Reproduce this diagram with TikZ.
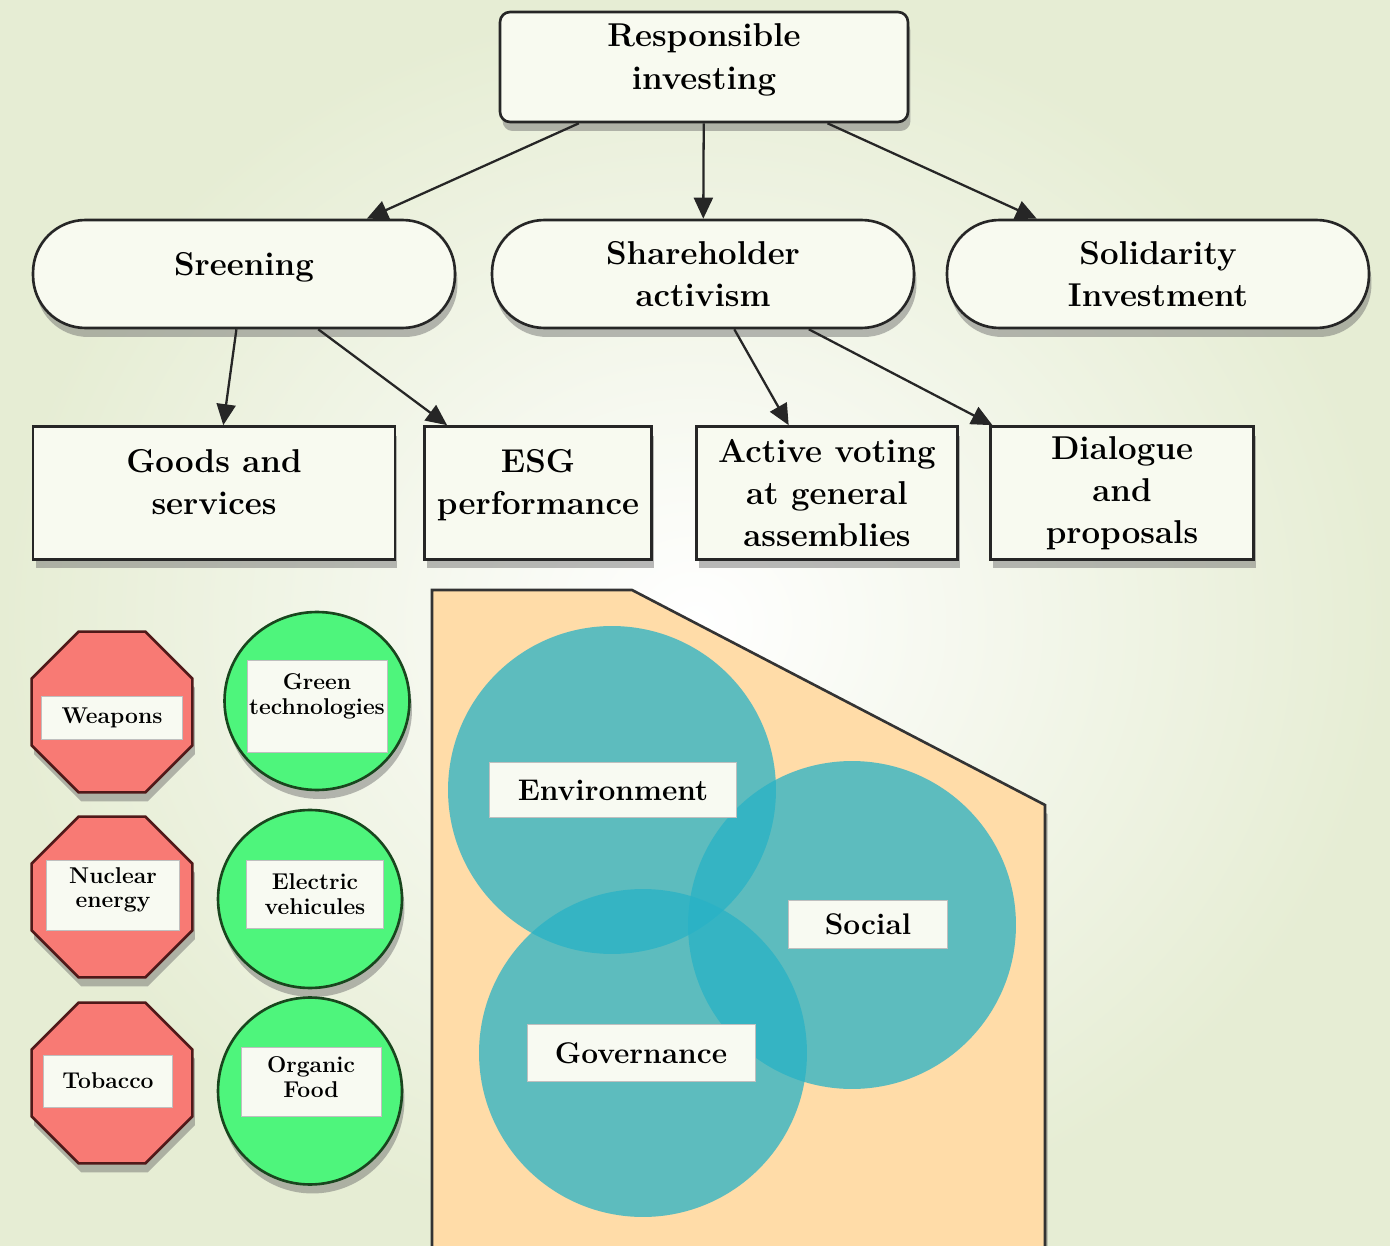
\documentclass[tikz,border=0pt]{standalone}
\usepackage{fontspec}
\usepackage{tikz}
\usetikzlibrary{shapes.geometric,shadows,arrows.meta}

\definecolor{bgedge}{RGB}{230,237,212}
\definecolor{boxfill}{RGB}{248,250,240}
\definecolor{stopred}{RGB}{248,122,116}
\definecolor{stopline}{RGB}{80,25,25}
\definecolor{gogreen}{RGB}{78,245,124}
\definecolor{goline}{RGB}{25,70,30}
\definecolor{peach}{RGB}{255,220,168}
\definecolor{esgteal}{RGB}{40,178,198}
\definecolor{tagfill}{RGB}{248,250,242}

\tikzstyle{boxshadow}=[drop shadow={shadow xshift=0.05cm, shadow yshift=-0.18cm, fill=black!60, opacity=0.45}]
\tikzstyle{top box}=[rectangle, rounded corners=0.2cm, draw=black!85, line width=1.5pt, fill=boxfill,
  minimum width=8.16cm, minimum height=2.2cm, align=center, font=\fontsize{18.8}{24}\selectfont\bfseries, boxshadow]
\tikzstyle{branch}=[top box, rounded corners=1.05cm, minimum width=8.44cm, minimum height=2.16cm]
\tikzstyle{leaf}=[top box, rounded corners=0pt, minimum height=2.66cm]
\tikzstyle{stop sign}=[regular polygon, regular polygon sides=8, minimum size=3.48cm, inner sep=0pt,
  fill=stopred, draw=stopline, line width=1.5pt, boxshadow]
\tikzstyle{go sign}=[ellipse, inner sep=0pt, fill=gogreen, draw=goline, line width=1.5pt, boxshadow]
\tikzstyle{tag}=[rectangle, inner sep=0pt, fill=tagfill, draw=black!25, line width=0.4pt, align=center,
  font=\fontsize{13}{14}\selectfont\bfseries]
\tikzstyle{pillar}=[circle, inner sep=0pt, minimum size=6.56cm, fill=esgteal, fill opacity=0.75]
\tikzstyle{pillar tag}=[tag, font=\fontsize{17}{19}\selectfont\bfseries]
\tikzstyle{link}=[-{Triangle[length=0.42cm,width=0.38cm]}, line width=1.3pt, draw=black!85]

\begin{document}
\begin{tikzpicture}[x=0.02cm, y=-0.02cm]
\useasboundingbox (0,0) rectangle (1390,1246);
\shade[inner color=white, outer color=bgedge] (0,0) rectangle (1390,1246);

% tree
\node[top box, text depth=0.42cm] (ri) at (704,67) {Responsible\\investing};

\node[branch, text depth=0.4cm] (scr) at (244,274) {Sreening};
\node[branch] (sha) at (703,274) {Shareholder\\activism};
\node[branch] (sol) at (1158,274) {Solidarity\\Investment};

\node[leaf, text depth=0.45cm, minimum width=7.24cm] (gds) at (214,493) {Goods and\\services};
\node[leaf, text depth=0.45cm, minimum width=4.54cm] (esg) at (538,493) {ESG\\performance};
\node[leaf, minimum width=5.22cm] (vot) at (827,493) {Active voting\\at general\\assemblies};
\node[leaf, minimum width=5.26cm] (dia) at (1122,493) {Dialogue\\and\\proposals};

\draw[link] (ri) -- (scr);
\draw[link] (ri) -- (sha);
\draw[link] (ri) -- (sol);
\draw[link] (scr) -- (gds);
\draw[link] (scr) -- (esg);
\draw[link] (sha) -- (vot);
\draw[link] (sha) -- (dia);

% excluded and favoured sectors
\node[stop sign] (wpn) at (112,712) {};
\node[stop sign] (nuc) at (112,897) {};
\node[stop sign] (tob) at (112,1083) {};
\node[tag, minimum width=2.82cm, minimum height=0.86cm] (wpntag) at (112,718) {Weapons};
\node[tag, text depth=0.3cm, minimum width=2.66cm, minimum height=1.4cm] (nuctag) at (113,895) {Nuclear\\energy};
\node[tag, minimum width=2.58cm, minimum height=1.04cm] (tobtag) at (108,1081) {Tobacco};

\node[go sign, minimum width=3.7cm, minimum height=3.56cm] (gt) at (317,701) {};
\node[go sign, minimum width=3.68cm, minimum height=3.56cm] (ev) at (310,899) {};
\node[go sign, minimum width=3.68cm, minimum height=3.74cm] (of) at (310,1091) {};
\node[tag, text depth=0.48cm, minimum width=2.8cm, minimum height=1.84cm] (gttag) at (317,706) {Green\\technologies};
\node[tag, minimum width=2.74cm, minimum height=1.36cm] (evtag) at (315,894) {Electric\\vehicules};
\node[tag, text depth=0.2cm, minimum width=2.8cm, minimum height=1.38cm] (oftag) at (311,1082) {Organic\\Food};

% ESG panel
\draw[fill=peach, draw=black!80, line width=1.5pt, boxshadow]
  (432,590) -- (632,590) -- (1045,805) -- (1045,1270) -- (432,1270) -- cycle;

\node[pillar] (env) at (612,790) {};
\node[pillar] (soc) at (852,925) {};
\node[pillar] (gov) at (643,1053) {};
\node[pillar tag, minimum width=4.94cm, minimum height=1.1cm] (envtag) at (613,790) {Environment};
\node[pillar tag, minimum width=3.18cm, minimum height=0.96cm] (soctag) at (868,924) {Social};
\node[pillar tag, minimum width=4.56cm, minimum height=1.14cm] (govtag) at (641,1053) {Governance};
\end{tikzpicture}
\end{document}
